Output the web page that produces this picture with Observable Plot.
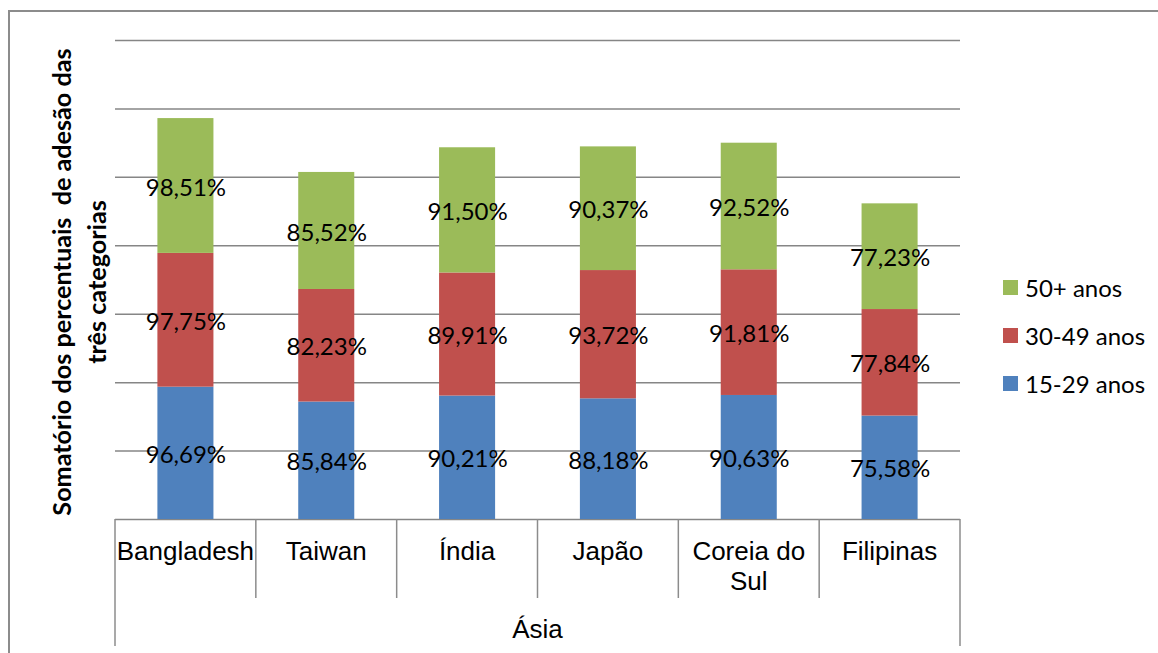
<!DOCTYPE html>
<html><head><meta charset="utf-8">
<script src="https://cdn.jsdelivr.net/npm/d3@7"></script>
<script src="https://cdn.jsdelivr.net/npm/@observablehq/plot@0.6"></script>
<style>
body{margin:0;background:#fff;}
#wrap{position:relative;width:1158px;height:653px;overflow:hidden;background:#fff;}
#frame{position:absolute;left:8px;top:10px;width:1300px;height:800px;border:2px solid #8c8c8c;box-sizing:border-box;}
#chart{position:absolute;left:0;top:0;}
#ytitle{position:absolute;left:-171px;top:247px;width:500px;height:70px;line-height:35px;text-align:center;transform:rotate(-90deg);transform-origin:50% 50%;font-family:Lato,sans-serif;font-weight:bold;font-size:25.2px;color:#000;white-space:nowrap;}
#legend{position:absolute;left:1003px;top:0;font-family:Lato,sans-serif;font-size:24px;color:#000;}
.li{position:absolute;left:0;height:30px;display:flex;align-items:center;white-space:nowrap;}
.sw{width:15px;height:15px;margin-right:7px;}
</style></head>
<body>
<div id="wrap">
  <div id="frame"></div>
  <div id="chart"></div>
  <div id="ytitle">Somatório dos percentuais&nbsp; de adesão das<br>três categorias</div>
  <div id="legend"></div>
</div>
<script>
const categories = ["Bangladesh","Taiwan","Índia","Japão","Coreia do Sul","Filipinas"];
const tickLabels = ["Bangladesh","Taiwan","Índia","Japão","Coreia do\nSul","Filipinas"];
const groupLabel = "Ásia";
const series = ["15-29 anos","30-49 anos","50+ anos"];
const colors = ["#4F81BD","#C0504D","#9BBB59"];
const v15_29 = [96.69, 85.84, 90.21, 88.18, 90.63, 75.58];
const v30_49 = [97.75, 82.23, 89.91, 93.72, 91.81, 77.84];
const v50 = [98.51, 85.52, 91.50, 90.37, 92.52, 77.23];
const gridTicks = [0,50,100,150,200,250,300,350];

const seriesValues = [v15_29, v30_49, v50];
const rows = [];
categories.forEach((c, i) => {
  let base = 0;
  seriesValues.forEach((vals, s) => {
    const v = vals[i];
    rows.push({cat: c, series: series[s], y1: base, y2: base + v, mid: base + v / 2,
      label: v.toFixed(2).replace(".", ",") + "%"});
    base += v;
  });
});

function axisMark(index, scales, values, dims) {
  const x = scales.x;
  const step = x(categories[1]) - x(categories[0]);
  const yb = dims.height - dims.marginBottom;
  const g = d3.create("svg:g");
  const bounds = categories.map(c => x(c));
  bounds.push(x(categories[categories.length - 1]) + step);
  bounds.forEach((b, i) => {
    const outer = i === 0 || i === bounds.length - 1;
    g.append("line").attr("x1", b).attr("x2", b).attr("y1", yb).attr("y2", yb + (outer ? 127 : 79))
      .attr("stroke", "#8c8c8c").attr("stroke-width", 1.5);
  });
  categories.forEach((c, i) => {
    const t = g.append("text").attr("x", x(c) + step / 2).attr("y", yb + 41)
      .attr("text-anchor", "middle").attr("font-family", "'Liberation Sans', Arial, sans-serif")
      .attr("font-size", 26).attr("fill", "#000");
    tickLabels[i].split("\n").forEach((line, k) => {
      t.append("tspan").attr("x", x(c) + step / 2).attr("dy", k === 0 ? 0 : 30).text(line);
    });
  });
  g.append("text").attr("x", (bounds[0] + bounds[bounds.length - 1]) / 2).attr("y", yb + 119)
    .attr("text-anchor", "middle").attr("font-family", "'Liberation Sans', Arial, sans-serif")
    .attr("font-size", 26).attr("fill", "#000").text(groupLabel);
  return g.node();
}

const chart = Plot.plot({
  width: 1158, height: 653,
  marginLeft: 115, marginRight: 198, marginTop: 40, marginBottom: 134,
  style: {background: "transparent", overflow: "visible"},
  x: {domain: categories, padding: 0, axis: null, round: false},
  y: {domain: [0, 350], axis: null},
  color: {domain: series, range: colors},
  marks: [
    Plot.ruleY(gridTicks, {stroke: "#868686", strokeWidth: 1.5, strokeOpacity: 1}),
    Plot.barY(rows, {x: "cat", y1: "y1", y2: "y2", fill: "series", insetLeft: 42.4, insetRight: 42.4}),
    Plot.text(rows, {x: "cat", y: "mid", text: "label", fontSize: 24, dy: 2, fill: "#000", fontFamily: "Lato, sans-serif"}),
    axisMark
  ]
});
document.getElementById("chart").appendChild(chart);

const legend = document.getElementById("legend");
const legendY = [272, 320, 368];
[2, 1, 0].forEach((s, k) => {
  const item = document.createElement("div");
  item.className = "li";
  item.style.top = legendY[k] + "px";
  item.innerHTML = `<div class="sw" style="background:${colors[s]}"></div><span>${series[s]}</span>`;
  legend.appendChild(item);
});
</script>
</body></html>
